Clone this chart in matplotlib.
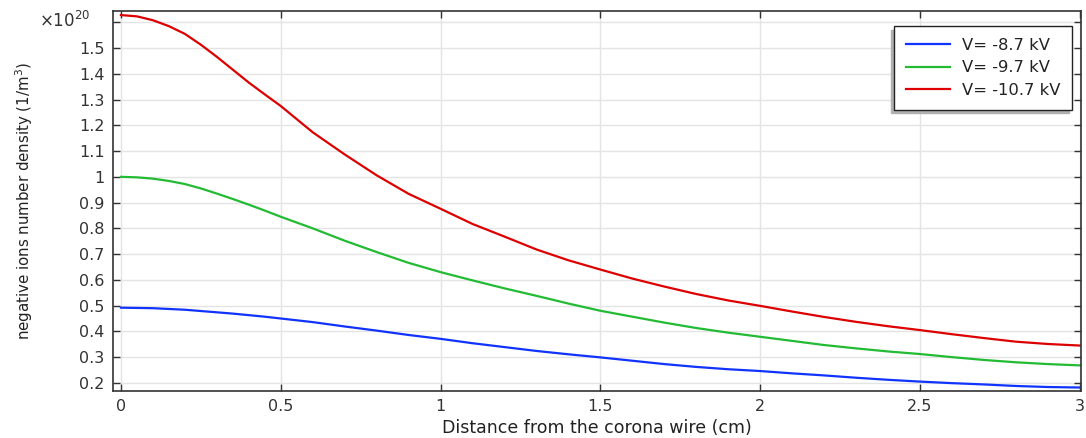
import matplotlib
matplotlib.use("Agg")
import matplotlib.pyplot as plt
from matplotlib.ticker import FixedLocator, FuncFormatter

x_cm = [0.0, 0.05, 0.1, 0.15, 0.2, 0.25, 0.3, 0.35, 0.4, 0.45, 0.5, 0.6, 0.7, 0.8, 0.9, 1.0,
        1.1, 1.2, 1.3, 1.4, 1.5, 1.6, 1.7, 1.8, 1.9, 2.0,
        2.1, 2.2, 2.3, 2.4, 2.5, 2.6, 2.7, 2.8, 2.9, 3.0]

v_87 = [0.492, 0.491, 0.490, 0.487, 0.484, 0.479, 0.474, 0.469, 0.463, 0.457, 0.450,
        0.436, 0.419, 0.403, 0.386, 0.371,
        0.354, 0.339, 0.324, 0.311, 0.299, 0.286, 0.273, 0.262, 0.253, 0.246,
        0.237, 0.229, 0.220, 0.212, 0.205, 0.199, 0.194, 0.188, 0.184, 0.182]

v_97 = [1.000, 0.998, 0.993, 0.984, 0.972, 0.955, 0.935, 0.914, 0.892, 0.869, 0.845,
        0.800, 0.752, 0.708, 0.666, 0.630,
        0.598, 0.567, 0.538, 0.508, 0.480, 0.457, 0.434, 0.413, 0.395, 0.379,
        0.363, 0.347, 0.334, 0.322, 0.312, 0.300, 0.289, 0.280, 0.273, 0.268]

v_107 = [1.628, 1.623, 1.608, 1.585, 1.555, 1.513, 1.466, 1.416, 1.366, 1.320, 1.275,
         1.173, 1.087, 1.006, 0.934, 0.876,
         0.817, 0.768, 0.718, 0.676, 0.640, 0.605, 0.574, 0.545, 0.520, 0.499,
         0.477, 0.456, 0.437, 0.420, 0.405, 0.389, 0.374, 0.360, 0.351, 0.345]

labels = ["V= -8.7 kV", "V= -9.7 kV", "V= -10.7 kV"]
colors = ["#1133ff", "#22bb33", "#dd0000"]

y_ticks = [0.2, 0.3, 0.4, 0.5, 0.6, 0.7, 0.8, 0.9, 1.0, 1.1, 1.2, 1.3, 1.4, 1.5, 1.6]
x_ticks = [0, 0.5, 1, 1.5, 2, 2.5, 3]

plt.rcParams['font.family'] = ['DejaVu Sans']
fig = plt.figure(figsize=(10.86, 4.38), dpi=100)
ax = fig.add_axes([0.104, 0.107, 0.8915, 0.868])

for ys, lab, c in zip([v_87, v_97, v_107], labels, colors):
    ax.plot(x_cm, ys, color=c, lw=1.6, label=lab)

ax.set_xlim(-0.025, 3.004)
ax.set_ylim(0.168, 1.644)
ax.xaxis.set_major_locator(FixedLocator(x_ticks))
ax.yaxis.set_major_locator(FixedLocator(y_ticks))

def yfmt(v, pos):
    if abs(v - 1.6) < 1e-6:
        return ""
    s = f"{v:.1f}"
    if s == "1.0":
        s = "1"
    return s

def xfmt(v, pos):
    return f"{v:g}"

ax.yaxis.set_major_formatter(FuncFormatter(yfmt))
ax.xaxis.set_major_formatter(FuncFormatter(xfmt))

ax.grid(True, color="#e4e4e4", lw=1.0)
ax.set_axisbelow(True)
ax.tick_params(direction="in", length=5, width=1, color="#333333",
               top=True, right=True, labelsize=11.5, labelcolor="#333333", pad=6)
for sp in ax.spines.values():
    sp.set_color("#333333")
    sp.set_linewidth(1.2)

ax.set_xlabel("Distance from the corona wire (cm)", fontsize=12.5, color="#222222", labelpad=3)
ax.set_ylabel("negative ions number density (1/m$^3$)", fontsize=10.8, color="#222222")
ax.yaxis.set_label_coords(-0.081, 0.5)

fig.text(0.036, 0.952, r"$\times$10$^{20}$", fontsize=12, color="#333333", va="center")

leg = ax.legend(loc="upper right", bbox_to_anchor=(0.9907, 0.96), fontsize=11.8,
                fancybox=False, shadow={'ox': -2.5, 'oy': -2.5, 'facecolor': '#b0b0b0',
                                        'edgecolor': '#b0b0b0', 'alpha': 1},
                framealpha=1, edgecolor="#222222",
                handlelength=2.7, handletextpad=0.7, borderpad=0.72, labelspacing=0.45,
                borderaxespad=0)
leg.get_frame().set_linewidth(1.0)
for t in leg.get_texts():
    t.set_color("#222222")

fig.savefig("out.png", dpi=100)
